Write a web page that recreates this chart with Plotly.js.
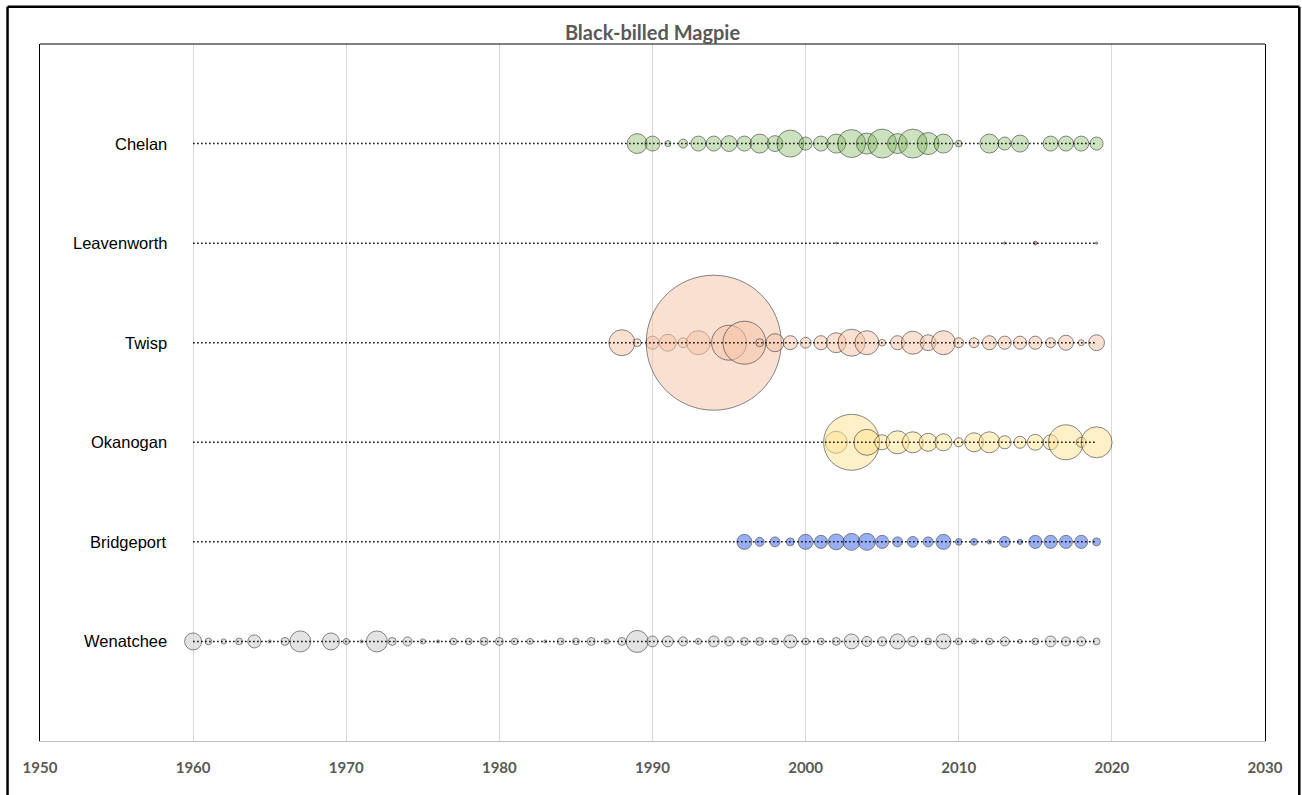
<!DOCTYPE html>
<html>
<head>
<meta charset="utf-8">
<script src="https://cdn.plot.ly/plotly-3.0.1.min.js"></script>
<style>html,body{margin:0;padding:0;background:#fff;}#chart{width:1302px;height:795px;}</style>
</head>
<body>
<div id="chart"></div>
<script>
// ---- data ----
const chartTitle = "Black-billed Magpie";
const sites = ["Wenatchee", "Bridgeport", "Okanogan", "Twisp", "Leavenworth", "Chelan"];
const surveyStart = 1960;
const surveyEnd = 2019;

const wenatcheeYears = [1960,1961,1962,1963,1964,1965,1966,1967,1969,1970,1971,1972,1973,1974,1975,1976,1977,1978,1979,1980,1981,1982,1983,1984,1985,1986,1987,1988,1989,1990,1991,1992,1993,1994,1995,1996,1997,1998,1999,2000,2001,2002,2003,2004,2005,2006,2007,2008,2009,2010,2011,2012,2013,2014,2015,2016,2017,2018,2019];
const wenatcheeCounts = [32,5,3,5,19,1,7,49,32,4,1,49,7,9,3,1,5,5,7,7,5,4,1,5,5,7,3,7,54,13,13,9,4,13,9,7,7,5,19,5,5,7,25,11,9,25,11,5,25,5,3,5,9,2,5,13,9,9,5];

const bridgeportYears = [1996,1997,1998,1999,2000,2001,2002,2003,2004,2005,2006,2007,2008,2009,2010,2011,2012,2013,2014,2015,2016,2017,2018,2019];
const bridgeportCounts = [25,9,11,7,25,19,28,32,32,19,11,13,11,25,5,5,2,13,3,19,19,19,19,7];

const okanoganYears = [2002,2003,2004,2005,2006,2007,2008,2009,2010,2011,2012,2013,2014,2015,2016,2017,2018,2019];
const okanoganCounts = [54,348,75,25,59,49,36,32,9,40,49,19,16,28,25,136,11,107];

const twispYears = [1988,1989,1990,1991,1992,1993,1994,1995,1996,1997,1998,1999,2000,2001,2002,2003,2004,2005,2006,2007,2008,2009,2010,2011,2012,2013,2014,2015,2016,2017,2018,2019];
const twispCounts = [75,7,19,32,11,64,2025,136,205,7,36,22,13,22,44,81,64,5,22,59,28,64,11,11,22,19,19,19,11,25,4,28];

const leavenworthYears = [2002,2013,2015,2019];
const leavenworthCounts = [0.3,0.6,1.5,0.6];

const chelanYears = [1989,1990,1991,1992,1993,1994,1995,1996,1997,1998,1999,2000,2001,2002,2003,2004,2005,2006,2007,2008,2009,2010,2012,2013,2014,2016,2017,2018,2019];
const chelanCounts = [44,25,4,9,25,25,28,25,40,28,81,19,25,40,87,49,93,44,93,54,40,5,40,19,32,25,25,25,19];

const xTicks = [1950,1960,1970,1980,1990,2000,2010,2020,2030];

// ---- styling ----
const siteData = {
  Wenatchee:   {years: wenatcheeYears,   counts: wenatcheeCounts,   fill: "rgba(200,200,200,0.7)"},
  Bridgeport:  {years: bridgeportYears,  counts: bridgeportCounts,  fill: "rgba(72,112,238,0.8)"},
  Okanogan:    {years: okanoganYears,    counts: okanoganCounts,    fill: "rgba(255,228,150,0.75)"},
  Twisp:       {years: twispYears,       counts: twispCounts,       fill: "rgba(246,198,168,0.75)"},
  Leavenworth: {years: leavenworthYears, counts: leavenworthCounts, fill: "rgba(200,60,60,0.8)"},
  Chelan:      {years: chelanYears,      counts: chelanCounts,      fill: "rgba(112,173,71,0.5)"}
};

const maxDiameter = 135;
const allCounts = [].concat(...sites.map(s => siteData[s].counts));
const maxCount = Math.max(...allCounts);
const sizeref = 2 * maxCount / (maxDiameter * maxDiameter);

const traces = [];
sites.forEach((s, i) => {
  const d = siteData[s];
  traces.push({
    type: "scatter", mode: "markers",
    x: d.years, y: d.years.map(() => i + 1),
    marker: {size: d.counts, sizemode: "area", sizeref: sizeref, sizemin: 0,
             color: d.fill, line: {color: "rgba(40,40,40,0.8)", width: 1}},
    hoverinfo: "x+text", text: d.counts.map(String), showlegend: false
  });
});
sites.forEach((s, i) => {
  traces.push({
    type: "scatter", mode: "lines",
    x: [surveyStart, surveyEnd], y: [i + 1, i + 1],
    line: {color: "#000", width: 1.5, dash: "1.5px,2.5px"},
    hoverinfo: "skip", showlegend: false
  });
});

const annotations = sites.map((s, i) => ({
  xref: "x", yref: "y", x: surveyStart, y: i + 1, text: s,
  xanchor: "right", yanchor: "middle", xshift: -24, showarrow: false,
  font: {family: "Liberation Sans, Arial, sans-serif", size: 16.5, color: "#000"}
}));

const layout = {
  width: 1302, height: 795,
  margin: {l: 40, r: 37, t: 44, b: 54},
  paper_bgcolor: "#fff", plot_bgcolor: "#fff",
  title: {text: "<b>" + chartTitle + "</b>", x: 0.5, xref: "paper", y: 1, yref: "paper", yanchor: "bottom", pad: {b: 4},
          font: {family: "Lato, Carlito, sans-serif", size: 20, color: "#595959"}},
  xaxis: {range: [1950, 2030], tickvals: xTicks, ticktext: xTicks.map(String),
          showgrid: true, gridcolor: "#d9d9d9", gridwidth: 1, zeroline: false,
          showline: true, linecolor: "#bfbfbf", linewidth: 1, ticks: "", ticklabelstandoff: 13,
          tickfont: {family: "Lato, Carlito, sans-serif", size: 15, color: "#595959", weight: "bold"}},
  yaxis: {range: [0, 7], showticklabels: false, showgrid: false, zeroline: false,
          showline: true, linecolor: "#000", linewidth: 1, mirror: true, ticks: ""},
  annotations: annotations,
  shapes: [
    {type: "line", xref: "paper", yref: "paper", x0: 0, x1: 1, y0: 1, y1: 1, line: {color: "#000", width: 1}},
    {type: "line", xref: "paper", yref: "paper", x0: -0.0265, x1: -0.0265, y0: -0.2, y1: 1.0535, line: {color: "#000", width: 2.5}},
    {type: "line", xref: "paper", yref: "paper", x0: -0.0265, x1: 1.028, y0: 1.0535, y1: 1.0535, line: {color: "#000", width: 2.5}},
    {type: "line", xref: "paper", yref: "paper", x0: 1.028, x1: 1.028, y0: -0.2, y1: 1.0535, line: {color: "#000", width: 2.5}}
  ],
  hovermode: "closest"
};

Plotly.newPlot("chart", traces, layout, {displayModeBar: false, staticPlot: true});
</script>
</body>
</html>
